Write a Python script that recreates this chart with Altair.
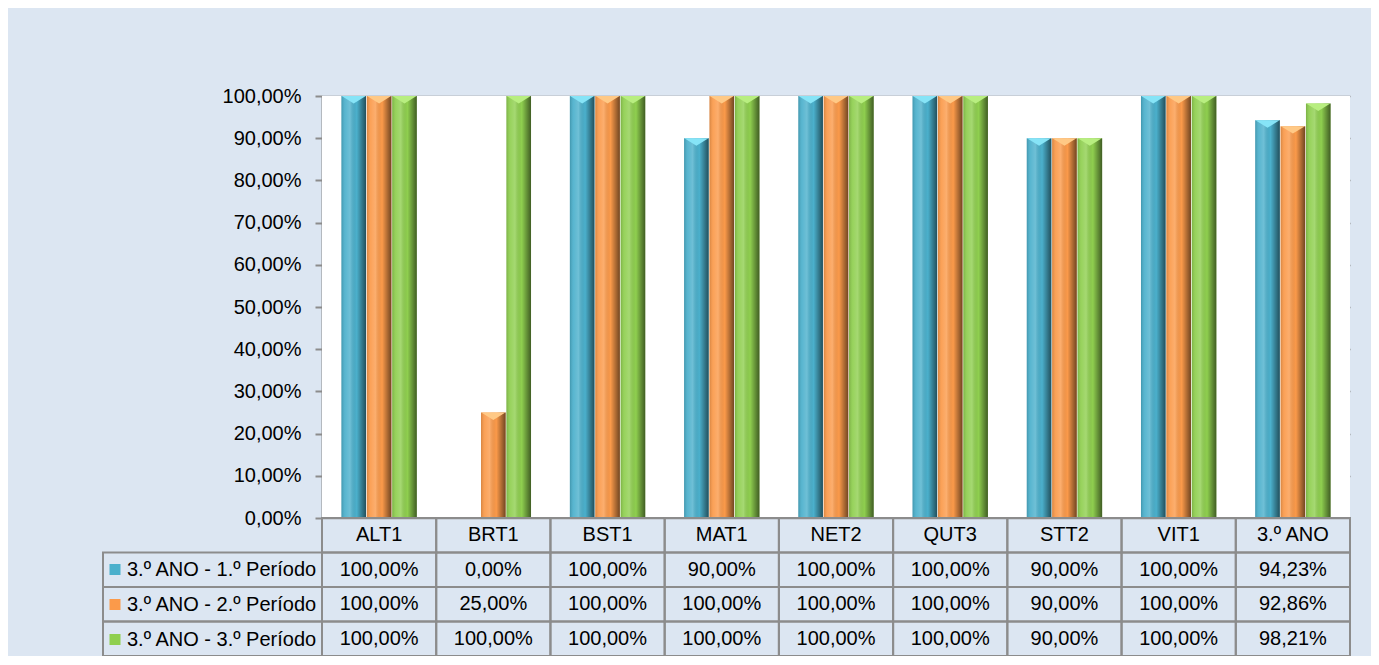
import altair as alt
import pandas as pd

categories = ["ALT1", "BRT1", "BST1", "MAT1", "NET2", "QUT3", "STT2", "VIT1", "3.º ANO"]
series = ["3.º ANO - 1.º Período", "3.º ANO - 2.º Período", "3.º ANO - 3.º Período"]
values_p1 = [1.00, 0.00, 1.00, 0.90, 1.00, 1.00, 0.90, 1.00, 0.9423]
values_p2 = [1.00, 0.25, 1.00, 1.00, 1.00, 1.00, 0.90, 1.00, 0.9286]
values_p3 = [1.00, 1.00, 1.00, 1.00, 1.00, 1.00, 0.90, 1.00, 0.9821]
colors = ["#4bb0cc", "#fb9a4a", "#8fcf4f"]
top_colors = ["#86e4f7", "#ffc986", "#b8ee80"]
y_ticks = [0.0, 0.1, 0.2, 0.3, 0.4, 0.5, 0.6, 0.7, 0.8, 0.9, 1.0]

W = 1028
BAR_H = 422
TABLE_H = 138
H = BAR_H + TABLE_H
LABEL_W = 219 / (W / len(categories))
FONT = "Liberation Sans"
GRID = "#8c8c8c"


def pct(v):
    return f"{v * 100:.2f}%".replace(".", ",")


rows = []
for s, vals in zip(series, [values_p1, values_p2, values_p3]):
    for c, v in zip(categories, vals):
        rows.append({"category": c, "series": s, "value": v})
df = pd.DataFrame(rows)

row_domain = ["header"] + series
cells = []
texts = []
for i, c in enumerate(categories):
    cells.append({"row": "header", "x0": i, "x1": i + 1})
    texts.append({"row": "header", "xc": i + 0.5, "text": c})
for s, vals in zip(series, [values_p1, values_p2, values_p3]):
    cells.append({"row": s, "x0": -LABEL_W, "x1": 0})
    for i, v in enumerate(vals):
        cells.append({"row": s, "x0": i, "x1": i + 1})
        texts.append({"row": s, "xc": i + 0.5, "text": pct(v)})
cells_df = pd.DataFrame(cells)
texts_df = pd.DataFrame(texts)

y_axis = alt.Axis(
    values=y_ticks,
    labelExpr="replace(format(datum.value, '.2%'), '.', ',')",
    grid=True, gridColor=GRID, gridWidth=1.5,
    domainColor=GRID, domainWidth=2,
    tickColor=GRID, tickWidth=2, tickSize=7,
    labelPadding=14, labelFontSize=20, labelColor="#000000", labelFont=FONT,
    title=None,
)
y_scale = alt.Scale(domain=[0, 1], range=[BAR_H, 0], nice=False, zero=True)
x_band = alt.X("category:N", sort=categories,
               scale=alt.Scale(domain=categories, paddingInner=0.34, paddingOuter=0.17),
               axis=None)
x_off = alt.XOffset("series:N", sort=series,
                    scale=alt.Scale(domain=series, paddingInner=0.03))

bg_df = pd.DataFrame({"value": [1.0], "value2": [0.0]})
bg = alt.Chart(bg_df).mark_rect(color="white").encode(
    y=alt.Y("value:Q", scale=y_scale, axis=y_axis),
    y2="value2:Q",
)

bars = alt.Chart(df).mark_bar().encode(
    x=x_band,
    xOffset=x_off,
    y=alt.Y("value:Q", scale=y_scale, axis=y_axis),
    color=alt.Color(
        "series:N", sort=series,
        scale=alt.Scale(domain=series, range=colors),
        legend=alt.Legend(
            orient="none", legendX=-217, legendY=BAR_H + 34.5 + 7,
            direction="vertical", title=None,
            labelFontSize=20, labelFont=FONT, labelColor="#000000", labelLimit=0,
            symbolType="square", symbolSize=121, symbolStrokeWidth=0,
            rowPadding=15, padding=0, labelOffset=2,
        ),
    ),
)

shade = alt.Gradient(
    gradient="linear", x1=0, x2=1, y1=0, y2=0,
    stops=[
        alt.GradientStop(color="rgba(0,0,0,0.15)", offset=0),
        alt.GradientStop(color="rgba(255,255,255,0.08)", offset=0.15),
        alt.GradientStop(color="rgba(255,255,255,0.20)", offset=0.35),
        alt.GradientStop(color="rgba(0,0,0,0.0)", offset=0.62),
        alt.GradientStop(color="rgba(0,0,0,0.55)", offset=1),
    ],
)
overlay = alt.Chart(df).mark_bar(fill=shade).encode(
    x=x_band,
    xOffset=x_off,
    y=alt.Y("value:Q", scale=y_scale, axis=y_axis),
)

bevel = alt.Chart(df).transform_filter("datum.value > 0").mark_point(
    shape="M-1,0 L1,0 L0,0.62 Z", filled=True, opacity=1, size=580, strokeWidth=0
).encode(
    x=x_band,
    xOffset=x_off,
    y=alt.Y("value:Q", scale=y_scale, axis=y_axis),
    fill=alt.Fill("series:N", sort=series,
                  scale=alt.Scale(domain=series, range=top_colors), legend=None),
)

bar_group = alt.layer(bg, bars, overlay, bevel)

tx_scale = alt.Scale(domain=[0, len(categories)], range=[0, W], nice=False, zero=False)
ty_scale = alt.Scale(domain=row_domain, range=[BAR_H, H], paddingInner=0, paddingOuter=0)

cell_marks = alt.Chart(cells_df).mark_rect(filled=False, color=GRID, strokeWidth=2).encode(
    x=alt.X("x0:Q", scale=tx_scale, axis=None),
    x2="x1:Q",
    y=alt.Y("row:N", scale=ty_scale, axis=None),
)
text_marks = alt.Chart(texts_df).mark_text(fontSize=20, font=FONT, color="#000000").encode(
    x=alt.X("xc:Q", scale=tx_scale, axis=None),
    y=alt.Y("row:N", scale=ty_scale, axis=None),
    text="text:N",
)
table_group = alt.layer(cell_marks, text_marks)

chart = alt.layer(bar_group, table_group).resolve_scale(
    x="independent", y="independent"
).properties(
    width=W, height=H,
    background="#dce6f2",
    autosize=alt.AutoSizeParams(type="none"),
    padding={"left": 314, "top": 88, "right": 21, "bottom": 0},
).configure(font=FONT).configure_view(stroke=None, fill=None)

chart.save("out.html", embed_options={"renderer": "svg", "actions": False})
